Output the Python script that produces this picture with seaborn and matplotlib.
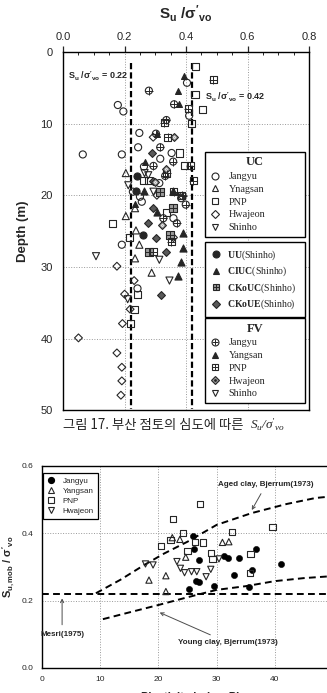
import numpy as np
import matplotlib
matplotlib.use('Agg')
import matplotlib.pyplot as plt
from matplotlib.lines import Line2D
from matplotlib.ticker import MultipleLocator
import seaborn as sns

sns.set_style('white')
plt.rcParams['font.family'] = ['Liberation Sans', 'DejaVu Sans']
plt.rcParams['mathtext.fontset'] = 'custom'
plt.rcParams['mathtext.rm'] = 'Liberation Sans'
plt.rcParams['mathtext.it'] = 'Liberation Sans:italic'
plt.rcParams['mathtext.bf'] = 'Liberation Sans:bold'
plt.rcParams['mathtext.sf'] = 'Liberation Serif:bold'
plt.rcParams['mathtext.cal'] = 'Liberation Serif:italic'

# ---------------- 그림 17 : Su/σ'vo vs depth ----------------
uc_jangyu_su = [0.403, 0.178, 0.196, 0.410, 0.248, 0.244, 0.064, 0.191, 0.353, 0.316,
                0.263, 0.313, 0.227, 0.250, 0.384, 0.256, 0.359, 0.191, 0.242]
uc_jangyu_d = [4.3, 7.4, 8.3, 8.9, 11.3, 13.3, 14.3, 14.3, 14.1, 14.9,
               16.0, 18.3, 19.5, 20.2, 20.4, 20.9, 23.2, 26.9, 33.0]
uc_yangsan_su = [0.204, 0.234, 0.204, 0.237, 0.248, 0.234, 0.288]
uc_yangsan_d = [16.9, 21.8, 22.9, 24.9, 26.9, 28.8, 30.8]
uc_pnp_su = [0.432, 0.429, 0.454, 0.418, 0.380, 0.394, 0.261, 0.277, 0.337, 0.160,
             0.216, 0.243, 0.232, 0.218]
uc_pnp_d = [2.0, 5.9, 8.0, 10.0, 14.1, 15.9, 18.0, 18.0, 22.4, 23.9,
            25.9, 33.9, 35.9, 37.9]
uc_hwajeon_su = [0.293, 0.359, 0.175, 0.231, 0.200, 0.218, 0.193, 0.050, 0.175, 0.191,
                 0.191, 0.188, 0.305]
uc_hwajeon_d = [11.9, 25.9, 29.9, 31.9, 33.8, 35.9, 37.9, 39.9, 42.0, 44.0,
                45.9, 47.9, 20.0]
uc_shinho_su = [0.277, 0.212, 0.294, 0.107, 0.313, 0.346, 0.210]
uc_shinho_d = [17.2, 18.6, 19.5, 28.5, 29.0, 31.9, 34.5]
uu_su = [0.240, 0.237, 0.261]
uu_d = [17.3, 19.4, 25.5]
ciuc_su = [0.263, 0.359, 0.305, 0.391, 0.391, 0.383, 0.375]
ciuc_d = [19.4, 19.4, 22.4, 25.3, 27.3, 29.3, 31.3]
ckouc_su = [0.315, 0.348, 0.281, 0.357]
ckouc_d = [19.5, 25.6, 27.9, 21.8]
ckoue_su = [0.288, 0.292, 0.294, 0.277, 0.301, 0.335, 0.318]
ckoue_d = [14.1, 18.0, 21.8, 23.8, 25.9, 27.9, 33.9]
fv_jangyu_su = [0.279, 0.361, 0.336, 0.302, 0.316, 0.358, 0.294, 0.332, 0.399, 0.326,
                0.370, 0.389]
fv_jangyu_d = [5.4, 7.3, 9.5, 11.4, 13.3, 15.3, 15.9, 17.3, 21.3, 23.2, 23.9, 20.1]
fv_yangsan_su = [0.394, 0.375, 0.377, 0.306, 0.267, 0.234]
fv_yangsan_d = [3.4, 5.5, 7.3, 11.4, 15.3, 21.2]
fv_pnp_su = [0.488, 0.407, 0.329, 0.341, 0.413, 0.337, 0.424, 0.386, 0.294, 0.360, 0.352]
fv_pnp_d = [3.9, 7.9, 9.9, 11.9, 15.9, 16.9, 18.0, 20.0, 27.9, 19.5, 26.5]
fv_hwajeon_su = [0.361, 0.334, 0.300, 0.322]
fv_hwajeon_d = [11.9, 16.4, 18.2, 24.2]
fv_shinho_su = [0.265]
fv_shinho_d = [16.9]

ratio_lines = [0.22, 0.42]

# ---------------- Su,mob/σ'vo vs PI ----------------
jangyu_pi = [26.0, 26.1, 26.9, 31.3, 32.0, 33.8, 36.8, 41.0, 33.0, 36.1, 26.4, 26.9, 29.5, 35.6, 25.2]
jangyu_r = [0.392, 0.352, 0.321, 0.334, 0.328, 0.328, 0.352, 0.309, 0.276, 0.291, 0.259, 0.256, 0.244, 0.241, 0.234]
yangsan_pi = [22.4, 23.7, 31.0, 32.1, 24.7, 18.4, 21.3, 21.3]
yangsan_r = [0.387, 0.382, 0.373, 0.375, 0.329, 0.261, 0.274, 0.227]
pnp_pi = [27.2, 22.5, 24.2, 32.7, 39.6, 22.1, 26.3, 27.7, 20.4, 25.0, 29.0, 29.3, 35.8, 35.7]
pnp_r = [0.487, 0.442, 0.402, 0.403, 0.418, 0.380, 0.375, 0.373, 0.363, 0.348, 0.341, 0.323, 0.338, 0.281]
hwajeon_pi = [30.4, 23.2, 23.8, 17.8, 19.1, 24.5, 25.7, 26.6, 29.0, 28.2]
hwajeon_r = [0.324, 0.316, 0.296, 0.309, 0.306, 0.283, 0.286, 0.286, 0.293, 0.271]

aged_pi = [9.3, 13.5, 17.5, 21.0, 25.0, 30.0, 36.0, 42.0, 47.0, 50.0]
aged_r = [0.222, 0.262, 0.305, 0.340, 0.375, 0.425, 0.460, 0.487, 0.505, 0.510]
young_pi = [10.5, 15.0, 20.0, 25.0, 30.0, 35.0, 40.0, 45.0, 50.0]
young_r = [0.145, 0.165, 0.187, 0.210, 0.232, 0.243, 0.258, 0.267, 0.273]
mesri_r = 0.22

EC = '0.15'


def scat(ax, x, y, marker, fc, s, over=None, over_s=None):
    sns.scatterplot(x=x, y=y, marker=marker, s=s, color=EC, facecolor=fc,
                    edgecolor=EC, linewidth=0.8, ax=ax, legend=False, zorder=3)
    if over:
        sns.scatterplot(x=x, y=y, marker=over, s=over_s or s, color=EC,
                        linewidth=0.7, ax=ax, legend=False, zorder=4)


def h(marker, fc, ms, over=None, over_ms=None):
    base = Line2D([], [], marker=marker, linestyle='none', markersize=ms,
                  markerfacecolor=fc, markeredgecolor=EC, markeredgewidth=0.8)
    if over:
        top = Line2D([], [], marker=over, linestyle='none', markersize=over_ms or ms,
                     color=EC, markeredgewidth=0.7)
        return (base, top)
    return base


fig = plt.figure(figsize=(3.27, 6.93), dpi=100)

# ======== top chart ========
ax = fig.add_axes([0.193, 0.408, 0.752, 0.517])
S = 26
SD = 16
scat(ax, uc_jangyu_su, uc_jangyu_d, 'o', 'none', S)
scat(ax, uc_yangsan_su, uc_yangsan_d, '^', 'none', S)
scat(ax, uc_pnp_su, uc_pnp_d, 's', 'none', S)
scat(ax, uc_hwajeon_su, uc_hwajeon_d, 'D', 'none', SD)
scat(ax, uc_shinho_su, uc_shinho_d, 'v', 'none', S)
scat(ax, uu_su, uu_d, 'o', EC, S)
scat(ax, ciuc_su, ciuc_d, '^', EC, S)
scat(ax, ckouc_su, ckouc_d, 's', '0.6', S, '+', S)
scat(ax, ckoue_su, ckoue_d, 'D', '0.35', SD)
scat(ax, fv_jangyu_su, fv_jangyu_d, 'o', 'none', S, '+', S)
scat(ax, fv_yangsan_su, fv_yangsan_d, '^', EC, 18)
scat(ax, fv_pnp_su, fv_pnp_d, 's', 'none', S, '+', S)
scat(ax, fv_hwajeon_su, fv_hwajeon_d, 'D', '0.6', SD, '.', 6)
scat(ax, fv_shinho_su, fv_shinho_d, 'v', 'none', S)

for r in ratio_lines:
    ax.plot([r, r], [1.5, 49.8], color='k', lw=1.6, ls=(0, (2.8, 1.4)), zorder=2)

ax.text(0.211, 3.4, r"$\mathbf{S_u\ /\sigma'_{vo}}$ = 0.22", fontsize=6.5,
        fontweight='bold', ha='right', va='center')
ax.text(0.657, 6.3, r"$\mathbf{S_u\ /\sigma'_{vo}}$ = 0.42", fontsize=6.5,
        fontweight='bold', ha='right', va='center')

ax.set_xlim(0, 0.8)
ax.set_ylim(50, 0)
ax.xaxis.tick_top()
ax.xaxis.set_label_position('top')
ax.set_xticks(np.arange(0, 0.81, 0.2))
ax.set_xticklabels(['0.0', '0.2', '0.4', '0.6', '0.8'])
ax.xaxis.set_minor_locator(MultipleLocator(0.05))
ax.set_yticks(np.arange(0, 51, 10))
ax.yaxis.set_minor_locator(MultipleLocator(5))
ax.tick_params(axis='both', which='major', labelsize=8, direction='out', length=4, width=0.9)
ax.tick_params(axis='both', which='minor', direction='in', length=2.5, width=0.7)
ax.tick_params(axis='x', which='both', top=True, bottom=False)
ax.grid(True, which='major', color='0.6', ls=':', lw=0.7)
for sp in ax.spines.values():
    sp.set_color('k')
    sp.set_linewidth(1.0)
ax.set_xlabel(r"$\mathbf{S_u\ /\sigma'_{vo}}$", fontsize=11, labelpad=9)
ax.set_ylabel('Depth (m)', fontsize=9.5, fontweight='bold', labelpad=8)

serif = dict(family=['Liberation Serif', 'DejaVu Serif'], size=7.3)
leg_common = dict(loc='upper left', mode='expand', frameon=True, fancybox=False,
                  edgecolor='k', framealpha=1, borderaxespad=0, handlelength=1.0,
                  handletextpad=0.9, borderpad=0.45)
title_font = dict(family=['Liberation Serif'], size=9, weight='bold')
W = 0.407

hm = 5.0
hd = 4.0
leg1 = ax.legend([h('o', 'none', hm), h('^', 'none', hm), h('s', 'none', hm),
                  h('D', 'none', hd), h('v', 'none', hm)],
                 ['Jangyu', 'Ynagsan', 'PNP', 'Hwajeon', 'Shinho'],
                 bbox_to_anchor=(0.577, 0.720, W, 0.001), labelspacing=0.36,
                 title='UC', title_fontproperties=title_font, prop=serif,
                 **leg_common)
leg1.get_frame().set_linewidth(1.0)
ax.add_artist(leg1)

bold_lbls = [r'$\mathsf{UU}$(Shinho)', r'$\mathsf{CIUC}$(Shinho)',
             r'$\mathsf{CKoUC}$(Shinho)', r'$\mathsf{CKoUE}$(Shinho)']
leg2 = ax.legend([h('o', EC, hm), h('^', EC, hm), h('s', '0.6', hm, '+', hm),
                  h('D', '0.35', hd)],
                 bold_lbls, bbox_to_anchor=(0.577, 0.468, W, 0.001),
                 labelspacing=0.32, prop=dict(family=['Liberation Serif'], size=7),
                 **{**leg_common, 'borderpad': 0.6, 'handletextpad': 0.7})
leg2.get_frame().set_linewidth(1.0)
ax.add_artist(leg2)

leg3 = ax.legend([h('o', 'none', hm, '+', hm), h('^', EC, 4.2), h('s', 'none', hm, '+', hm),
                  h('D', '0.6', hd, '.', 2.5), h('v', 'none', hm)],
                 ['Jangyu', 'Yangsan', 'PNP', 'Hwajeon', 'Shinho'],
                 bbox_to_anchor=(0.577, 0.256, W, 0.001), labelspacing=0.36,
                 title='FV', title_fontproperties=title_font, prop=serif,
                 **leg_common)
leg3.get_frame().set_linewidth(1.0)

fig.text(63 / 327, 1 - 425 / 693, "그림 17. 부산 점토의 심도에 따른", fontsize=9.6,
         family=['Noto Sans CJK KR', 'DejaVu Sans'], ha='left', va='center')
fig.text(250 / 327, 1 - 425 / 693, r"$\mathcal{S_u/\sigma'_{vo}}$", fontsize=9.5,
         ha='left', va='center')

# ======== bottom chart ========
bx = fig.add_axes([0.1275, 0.0361, 0.8915, 0.2915])
BS = 20
sns.scatterplot(x=jangyu_pi, y=jangyu_r, marker='o', s=BS, color='k', edgecolor='k',
                ax=bx, legend=False, zorder=3)
scat(bx, yangsan_pi, yangsan_r, '^', 'none', BS)
scat(bx, pnp_pi, pnp_r, 's', 'none', BS)
scat(bx, hwajeon_pi, hwajeon_r, 'v', 'none', BS)

dash = (0, (3.5, 2.2))
bx.plot(aged_pi, aged_r, color='k', lw=1.4, ls=dash, zorder=2)
bx.plot(young_pi, young_r, color='k', lw=1.4, ls=dash, zorder=2)
bx.plot([0, 50], [mesri_r, mesri_r], color='k', lw=1.4, ls=dash, zorder=2)

ann = dict(fontsize=5.8, fontweight='bold', ha='center', va='center')
arr = dict(arrowstyle='->', color='0.3', lw=0.7)
bx.annotate('Aged clay, Bjerrum(1973)', xy=(35.8, 0.462), xytext=(38.5, 0.545),
            arrowprops=arr, **ann)
bx.annotate('Mesri(1975)', xy=(3.5, 0.215), xytext=(3.5, 0.10), arrowprops=arr, **ann)
bx.annotate('Young clay, Bjerrum(1973)', xy=(19.8, 0.168), xytext=(32.0, 0.075),
            arrowprops=arr, **ann)

bx.set_xlim(0, 50)
bx.set_ylim(0, 0.6)
bx.set_xticks([0, 10, 20, 30, 40])
bx.set_yticks([0.0, 0.2, 0.4, 0.6])
bx.set_yticklabels(['0.0', '0.2', '0.4', '0.6'])
bx.yaxis.set_minor_locator(MultipleLocator(0.1))
bx.tick_params(axis='both', which='major', labelsize=6, direction='inout', length=5, width=0.9)
bx.tick_params(axis='both', which='minor', direction='in', length=2.5, width=0.7)
bx.grid(True, which='major', color='0.6', ls=':', lw=0.7)
for sp in bx.spines.values():
    sp.set_color('k')
    sp.set_linewidth(1.0)
bx.set_ylabel(r"$\mathbf{S_{u,mob}\ /\ \sigma'_{vo}}$", fontsize=8, labelpad=3)
fig.text(0.58, 1.5 / 693, 'Plasticity Index, PI', fontsize=8, fontweight='bold',
         ha='center', va='top')

bleg = bx.legend([Line2D([], [], marker='o', ls='none', ms=4.2, color='k'),
                  h('^', 'none', 4.2), h('s', 'none', 4.2), h('v', 'none', 4.2)],
                 ['Jangyu', 'Yangsan', 'PNP', 'Hwajeon'],
                 loc='upper left', bbox_to_anchor=(0.006, 0.965), frameon=True,
                 fancybox=False, edgecolor='k', framealpha=1, borderaxespad=0,
                 fontsize=5.8, labelspacing=0.3, handlelength=1.0, handletextpad=0.9,
                 borderpad=0.5)
bleg.get_frame().set_linewidth(0.9)

fig.savefig('out.png', dpi=100)
